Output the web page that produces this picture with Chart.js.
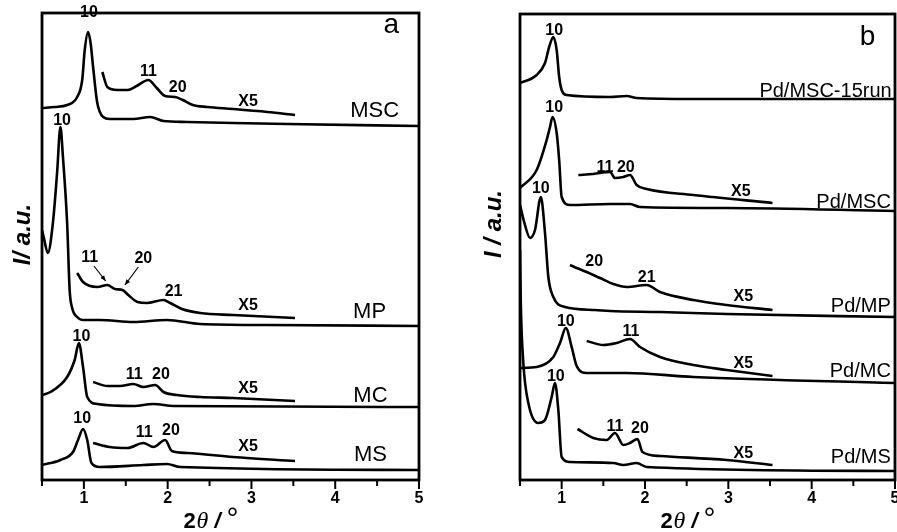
<!DOCTYPE html>
<html>
<head>
<meta charset="utf-8">
<script src="https://cdn.jsdelivr.net/npm/chart.js@4.4.1/dist/chart.umd.min.js"></script>
<style>
html, body { margin: 0; padding: 0; background: #fff; }
#wrap { position: relative; width: 897px; height: 532px; }
.panel { position: absolute; top: 0; height: 532px; }
</style>
</head>
<body>
<div id="wrap">
  <div class="panel" style="left:0;width:448px"><canvas id="chartA" width="448" height="532"></canvas></div>
  <div class="panel" style="left:448px;width:449px"><canvas id="chartB" width="449" height="532"></canvas></div>
</div>
<script>
// ---- panel a : 2theta (deg) and offset intensity (a.u.) ----
const aMSC_x = [0.5, 0.65, 0.80, 0.92, 0.98, 1.01, 1.05, 1.08, 1.11, 1.16, 1.23, 1.31, 1.59, 1.79, 1.95, 2.23, 2.78, 3.43, 5.0];
const aMSC_y = [372, 373, 375, 383, 400, 430, 448, 437, 413, 377, 363, 361, 361, 363, 359, 358, 357, 356, 354];
const aMSC5_x = [1.22, 1.28, 1.40, 1.52, 1.63, 1.77, 1.87, 1.97, 2.09, 2.18, 2.30, 2.47, 2.78, 3.19, 3.52];
const aMSC5_y = [408, 393, 390, 390, 394, 400, 392, 384, 383, 380, 375, 373, 371, 368, 365];

const aMP_x = [0.5, 0.52, 0.57, 0.63, 0.68, 0.72, 0.75, 0.80, 0.83, 0.86, 0.92, 0.99, 1.19, 1.59, 1.99, 2.39, 3.19, 5.0];
const aMP_y = [250, 243, 227, 257, 307, 353, 323, 257, 190, 172, 163, 160, 160, 158, 160, 156, 155, 154];
const aMP5_x = [0.92, 0.99, 1.16, 1.28, 1.37, 1.46, 1.53, 1.64, 1.75, 1.95, 2.03, 2.17, 2.39, 2.78, 3.52];
const aMP5_y = [207, 198, 193, 195, 191, 190, 185, 178, 177, 180, 177, 171, 167, 165, 162];

const aMC_x = [0.5, 0.60, 0.80, 0.89, 0.94, 0.99, 1.04, 1.16, 1.59, 1.83, 2.07, 5.0];
const aMC_y = [85, 88, 103, 120, 137, 113, 83, 76, 74, 76, 74, 73];
const aMC5_x = [1.11, 1.28, 1.43, 1.59, 1.71, 1.85, 1.95, 2.11, 2.39, 2.78, 3.52];
const aMC5_y = [98, 94, 94, 96, 93, 95, 88, 85, 83, 82, 79];

const aMS_x = [0.5, 0.72, 0.87, 0.93, 0.99, 1.04, 1.09, 1.19, 1.71, 1.99, 2.15, 5.0];
const aMS_y = [15, 20, 28, 40, 51, 40, 17, 13, 15, 16, 13, 10];
const aMS5_x = [1.11, 1.31, 1.52, 1.71, 1.83, 1.97, 2.05, 2.23, 2.78, 3.52];
const aMS5_y = [37, 33, 32, 37, 33, 40, 29, 27, 23, 19];

// ---- panel b ----
const bRun_x = [0.5, 0.70, 0.80, 0.85, 0.90, 0.94, 0.97, 1.00, 1.06, 1.58, 1.78, 1.90, 2.58, 5.0];
const bRun_y = [397, 405, 417, 433, 443, 430, 403, 390, 385, 383, 384, 382, 381, 381];

const bMSC_x = [0.5, 0.70, 0.82, 0.86, 0.89, 0.94, 0.97, 1.00, 1.10, 1.58, 1.82, 1.94, 2.98, 5.0];
const bMSC_y = [292, 310, 340, 353, 363, 347, 320, 283, 275, 276, 276, 273, 272, 269];
const bMSC5_x = [1.20, 1.38, 1.58, 1.64, 1.74, 1.82, 1.90, 2.02, 2.58, 3.53];
const bMSC5_y = [305, 306, 308, 302, 303, 305, 295, 291, 285, 277];

const bMP_x = [0.5, 0.55, 0.62, 0.68, 0.75, 0.80, 0.84, 0.90, 1.04, 1.40, 1.58, 2.18, 2.98, 5.0];
const bMP_y = [275, 258, 242, 250, 283, 247, 203, 183, 173, 170, 169, 168, 166, 163];
const bMP5_x = [1.10, 1.18, 1.30, 1.46, 1.62, 1.78, 2.02, 2.18, 2.58, 2.98, 3.53];
const bMP5_y = [215, 212, 208, 202, 196, 193, 195, 188, 180, 175, 170];

const bMC_x = [0.5, 0.70, 0.90, 0.98, 1.05, 1.12, 1.18, 1.30, 1.78, 2.58, 5.0];
const bMC_y = [112, 113, 123, 137, 152, 133, 114, 107, 107, 103, 97];
const bMC5_x = [1.30, 1.50, 1.66, 1.82, 1.94, 2.18, 2.58, 2.98, 3.53];
const bMC5_y = [139, 135, 137, 141, 133, 123, 115, 110, 104];

const bMS_x = [0.5, 0.51, 0.54, 0.60, 0.72, 0.80, 0.88, 0.92, 0.96, 1.00, 1.10, 1.62, 1.74, 1.90, 2.02, 5.0];
const bMS_y = [230, 175, 117, 77, 57, 60, 83, 97, 70, 23, 18, 17, 15, 17, 13, 9];
const bMS5_x = [1.19, 1.38, 1.54, 1.64, 1.74, 1.82, 1.91, 1.97, 2.18, 2.98, 3.53];
const bMS5_y = [51, 42, 40, 47, 35, 37, 41, 28, 24, 20, 15];

// ---- axis ticks ----
const xMin = 0.5, xMax = 5, xStep = 0.5;

// ---- annotations: [text, 2theta, intensity] ----
const peakLabelsA = [
  ['10', 1.06, 467], ['11', 1.77, 408], ['20', 2.12, 392], ['X5', 2.96, 378],
  ['10', 0.74, 359], ['11', 1.07, 222], ['20', 1.71, 221], ['21', 2.07, 188], ['X5', 2.96, 174],
  ['10', 0.97, 143], ['11', 1.60, 105], ['20', 1.92, 105], ['X5', 2.96, 91],
  ['10', 0.98, 61], ['11', 1.72, 47], ['20', 2.04, 49], ['X5', 2.96, 33]
];
const nameLabelsA = [['MSC', 4.47, 369], ['MP', 4.41, 168], ['MC', 4.42, 84], ['MS', 4.42, 25]];
const arrowsA = [[1.12, 214, 1.26, 199], [1.65, 213, 1.49, 195]];

const peakLabelsB = [
  ['10', 0.91, 449],
  ['10', 0.91, 372], ['11', 1.52, 312], ['20', 1.77, 312], ['X5', 3.15, 288],
  ['10', 0.75, 291], ['20', 1.39, 218], ['21', 2.02, 202], ['X5', 3.18, 183],
  ['10', 1.05, 158], ['11', 1.83, 148], ['X5', 3.18, 116],
  ['10', 0.93, 103], ['11', 1.64, 53], ['20', 1.94, 51], ['X5', 3.18, 26]
];
const nameLabelsB = [['Pd/MSC-15run', 4.96, 389], ['Pd/MSC', 4.95, 278], ['Pd/MP', 4.95, 174], ['Pd/MC', 4.95, 109], ['Pd/MS', 4.95, 23]];

const FONT = '"Liberation Sans", Arial, sans-serif';

function toPoints(xs, ys) {
  return xs.map((x, i) => ({ x: x, y: ys[i] }));
}

function curve(xs, ys) {
  return {
    data: toPoints(xs, ys),
    borderColor: '#000',
    borderWidth: 2.6,
    pointRadius: 0,
    fill: false,
    cubicInterpolationMode: 'monotone'
  };
}

const decor = {
  id: 'decor',
  afterDraw(chart, args, o) {
    const ctx = chart.ctx;
    const ca = chart.chartArea;
    const x = chart.scales.x, y = chart.scales.y;
    ctx.save();
    ctx.strokeStyle = '#000';
    ctx.fillStyle = '#000';

    // frame
    ctx.lineWidth = 2.8;
    ctx.strokeRect(ca.left, ca.top, ca.right - ca.left, ca.bottom - ca.top);

    // outward tick marks, integers longer
    ctx.lineWidth = 2;
    x.ticks.forEach(t => {
      const px = x.getPixelForValue(t.value);
      const len = Number.isInteger(t.value) ? 9 : 6;
      ctx.beginPath();
      ctx.moveTo(px, ca.bottom);
      ctx.lineTo(px, ca.bottom + len);
      ctx.stroke();
    });

    ctx.textBaseline = 'middle';
    ctx.textAlign = 'center';
    ctx.font = 'bold 16px ' + FONT;
    o.peaks.forEach(([t, lx, ly]) => ctx.fillText(t, x.getPixelForValue(lx), y.getPixelForValue(ly)));

    ctx.font = o.nameSize + 'px ' + FONT;
    ctx.textAlign = o.nameAlign;
    o.names.forEach(([t, lx, ly]) => ctx.fillText(t, x.getPixelForValue(lx), y.getPixelForValue(ly)));

    ctx.textAlign = 'center';
    ctx.font = '28px ' + FONT;
    ctx.fillText(o.letter[0], x.getPixelForValue(o.letter[1]), y.getPixelForValue(o.letter[2]));

    // small arrows
    ctx.lineWidth = 1.2;
    (o.arrows || []).forEach(([x1, y1, x2, y2]) => {
      const p1x = x.getPixelForValue(x1), p1y = y.getPixelForValue(y1);
      const p2x = x.getPixelForValue(x2), p2y = y.getPixelForValue(y2);
      const ang = Math.atan2(p2y - p1y, p2x - p1x);
      ctx.beginPath();
      ctx.moveTo(p1x, p1y);
      ctx.lineTo(p2x, p2y);
      ctx.stroke();
      ctx.beginPath();
      ctx.moveTo(p2x, p2y);
      ctx.lineTo(p2x - 6 * Math.cos(ang - 0.4), p2y - 6 * Math.sin(ang - 0.4));
      ctx.lineTo(p2x - 6 * Math.cos(ang + 0.4), p2y - 6 * Math.sin(ang + 0.4));
      ctx.closePath();
      ctx.fill();
    });

    // y title
    ctx.save();
    ctx.translate(ca.left - o.yGap, (ca.top + ca.bottom) / 2 + o.yShift);
    ctx.rotate(-Math.PI / 2);
    ctx.font = 'italic bold 24px ' + FONT;
    ctx.textAlign = 'center';
    ctx.fillText(o.yTitle, 0, 0);
    ctx.restore();

    // x title: 2θ / °
    const x0 = (ca.left + ca.right) / 2 - 47;
    const base = ca.bottom + 48;
    ctx.textAlign = 'left';
    ctx.textBaseline = 'alphabetic';
    ctx.font = 'bold 22px ' + FONT;
    ctx.fillText('2', x0, base);
    ctx.font = 'italic 24px "Liberation Serif", serif';
    ctx.fillText('θ', x0 + 13, base);
    ctx.font = 'italic bold 22px ' + FONT;
    ctx.fillText('/', x0 + 31, base);
    ctx.font = '30px ' + FONT;
    ctx.fillText('°', x0 + 43, base);
    ctx.restore();
  }
};

function makePanel(id, series, yMax, yWidth, padTop, padRight, deco) {
  return new Chart(document.getElementById(id), {
    type: 'line',
    data: { datasets: series.map(s => curve(s[0], s[1])) },
    options: {
      responsive: false,
      animation: false,
      events: [],
      layout: { padding: { top: padTop, right: padRight, left: 0, bottom: 0 } },
      plugins: { legend: { display: false }, tooltip: { enabled: false }, decor: deco },
      scales: {
        x: {
          type: 'linear', min: xMin, max: xMax,
          grid: { display: false, drawTicks: false },
          border: { display: false },
          ticks: {
            stepSize: xStep, autoSkip: false, maxRotation: 0, padding: 9, color: '#000',
            font: { family: FONT, size: 16, weight: 'bold' },
            callback: v => Number.isInteger(v) ? String(v) : ''
          },
          afterFit(s) { s.height = 52; s.paddingLeft = 0; s.paddingRight = 0; }
        },
        y: {
          type: 'linear', min: 0, max: yMax,
          grid: { display: false },
          border: { display: false },
          ticks: { display: false },
          afterFit(s) { s.width = yWidth; }
        }
      }
    },
    plugins: [decor]
  });
}

makePanel('chartA', [
  [aMSC_x, aMSC_y], [aMSC5_x, aMSC5_y],
  [aMP_x, aMP_y], [aMP5_x, aMP5_y],
  [aMC_x, aMC_y], [aMC5_x, aMC5_y],
  [aMS_x, aMS_y], [aMS5_x, aMS5_y]
], 467, 42, 13, 29, {
  peaks: peakLabelsA, names: nameLabelsA, nameSize: 22, nameAlign: 'center',
  letter: ['a', 4.67, 455], arrows: arrowsA,
  yTitle: 'I/ a.u.', yGap: 19, yShift: -12
});

makePanel('chartB', [
  [bRun_x, bRun_y],
  [bMSC_x, bMSC_y], [bMSC5_x, bMSC5_y],
  [bMP_x, bMP_y], [bMP5_x, bMP5_y],
  [bMC_x, bMC_y], [bMC5_x, bMC5_y],
  [bMS_x, bMS_y], [bMS5_x, bMS5_y]
], 466, 72, 14, 2, {
  peaks: peakLabelsB, names: nameLabelsB, nameSize: 20, nameAlign: 'right',
  letter: ['b', 4.67, 443], arrows: [],
  yTitle: 'I / a.u.', yGap: 26, yShift: -23
});
</script>
</body>
</html>
